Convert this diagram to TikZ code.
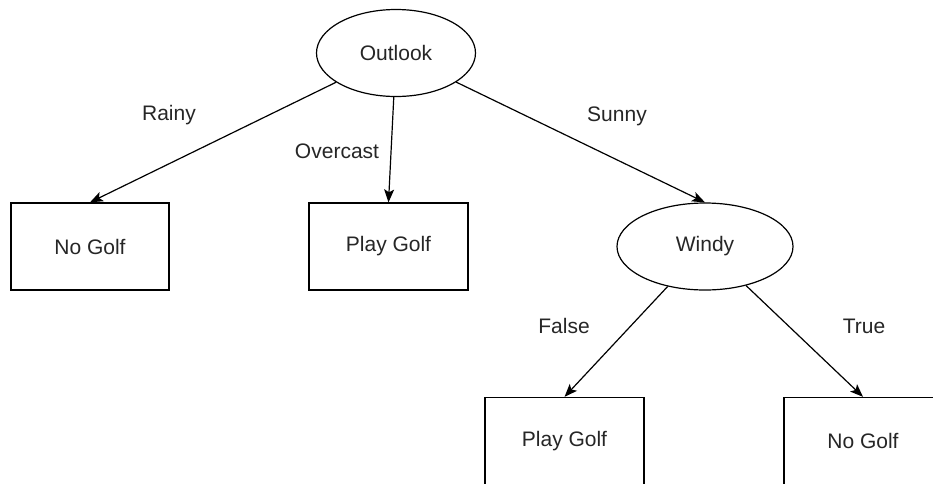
\documentclass[tikz,border=0pt]{standalone}
\usepackage{fontspec}
\setmainfont{Liberation Sans}
\usetikzlibrary{shapes.geometric,arrows.meta}
\begin{document}
\begin{tikzpicture}[x=1pt,y=-1pt,
  every node/.style={font=\fontsize{21}{25}\selectfont, text=black!85},
  decision/.style={ellipse, draw=black, line width=1.2pt, minimum width=159pt, minimum height=87pt, inner sep=0pt},
  leaf/.style={rectangle, draw=black, line width=1.3pt, minimum width=158pt, minimum height=87pt, inner sep=0pt},
  edgelabel/.style={inner sep=0pt},
  conn/.style={draw=black, line width=1.2pt, -{Stealth[length=13pt,width=10pt,inset=3pt]}}
]
\useasboundingbox (0,0) rectangle (933,483);
\clip (0,0) rectangle (933,483);
\fill[white] (0,0) rectangle (933,483);

\node[decision] (outlook) at (396,53) {Outlook};
\node[decision, minimum width=176pt] (windy) at (705,246.5) {Windy};
\node[leaf] (nogolf1) at (90,246.5) {No Golf};
\node[leaf, minimum width=159pt] (playgolf1) at (388.5,246.5) {Play Golf};
\node[leaf, minimum width=159pt] (playgolf2) at (564.5,441) {Play Golf};
\node[leaf] (nogolf2) at (863,441) {No Golf};

\node[edgelabel] (rainy) at (169,115) {Rainy};
\node[edgelabel] (overcast) at (337,151) {Overcast};
\node[edgelabel] (sunny) at (617,116) {Sunny};
\node[edgelabel] (false) at (564,326) {False};
\node[edgelabel] (true) at (864,326) {True};

\draw[conn] (outlook) -- (nogolf1.north);
\draw[conn] (outlook) -- (playgolf1.north);
\draw[conn] (outlook) -- (windy.north);
\draw[conn] (windy) -- (playgolf2.north);
\draw[conn] (windy) -- (nogolf2.north);
\end{tikzpicture}
\end{document}
